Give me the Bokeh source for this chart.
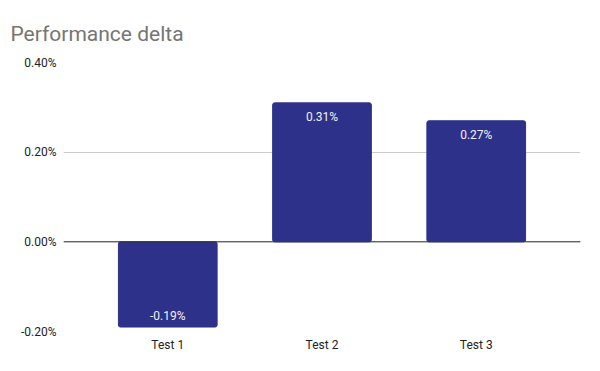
from bokeh.plotting import figure
from bokeh.models import FactorRange, Range1d, NumeralTickFormatter, ColumnDataSource, LabelSet, Span, FixedTicker
from bokeh.core.properties import value
from bokeh.embed import file_html
from bokeh.resources import INLINE

categories = ["Test 1", "Test 2", "Test 3"]
deltas = [-0.0019, 0.0031, 0.0027]
delta_labels = ["-0.19%", "0.31%", "0.27%"]
y_ticks = [-0.002, 0.0, 0.002, 0.004]

BAR = "#2e318a"
FONT = "Roboto"

src = ColumnDataSource(dict(
    x=categories, top=deltas, label=delta_labels,
    yoff=[-7 if d > 0 else 4 for d in deltas],
    base=["top" if d > 0 else "bottom" for d in deltas],
))

p = figure(width=600, height=371, output_backend="svg", toolbar_location=None,
           x_range=FactorRange(factors=categories, range_padding=0.176, range_padding_units="absolute"),
           y_range=Range1d(-0.002, 0.004),
           min_border_left=63, min_border_right=20, min_border_top=62, min_border_bottom=40)
p.outline_line_color = None
p.background_fill_color = "white"

p.title.text = "Performance delta"
p.title.text_font = FONT
p.title.text_font_size = "21px"
p.title.text_font_style = "normal"
p.title.text_color = "#757575"
p.title.offset = -53
p.title.standoff = 34

p.vbar(x="x", top="top", bottom=0, width=0.64, source=src, color=BAR, border_radius=2)

p.add_layout(Span(location=0, dimension="width", line_color="#333333", line_width=1))

labels = LabelSet(x="x", y="top", text="label", y_offset="yoff", source=src,
                  text_align="center", text_baseline="base", text_color="#f2f2f2",
                  text_font_size="12px", text_font=value(FONT))
p.add_layout(labels)

p.yaxis.ticker = FixedTicker(ticks=y_ticks)
p.yaxis.formatter = NumeralTickFormatter(format="0.00%")
for ax in (p.xaxis, p.yaxis):
    ax.axis_line_color = None
    ax.major_tick_line_color = None
    ax.minor_tick_line_color = None
    ax.major_label_text_font = FONT
    ax.major_label_text_font_size = "12px"
    ax.major_label_text_color = "#222222"
p.yaxis.major_label_standoff = 1
p.xaxis.major_label_standoff = 0

p.xgrid.grid_line_color = None
p.ygrid.grid_line_color = "#cccccc"
p.ygrid.ticker = FixedTicker(ticks=y_ticks)

open("out.html", "w").write(file_html(p, INLINE))
